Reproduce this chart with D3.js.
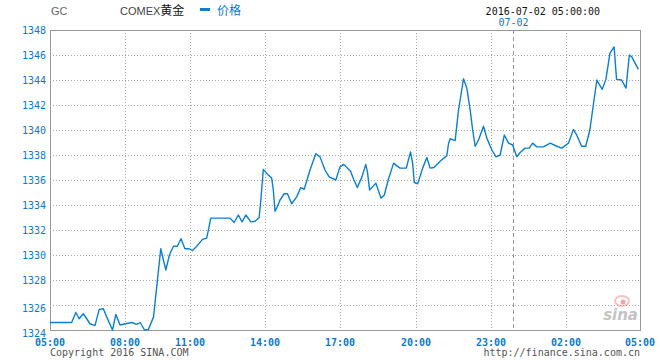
<!DOCTYPE html>
<html>
<head>
<meta charset="utf-8">
<script src="https://cdn.jsdelivr.net/npm/d3@7/dist/d3.min.js"></script>
<style>
	body { margin: 0; background: #fff; }
	svg { display: block; }
	.mono { font-family: "DejaVu Sans Mono", "Liberation Mono", monospace; font-size: 10px; }
</style>
</head>
<body>
<svg id="chart" width="660" height="360"></svg>
<script>
// --- data ---
const times = [
	"05:00", "05:52", "06:02", "06:10", "06:20", "06:36", "06:48", "06:58", "07:08", "07:16",
	"07:30", "07:38", "07:48", "08:00", "08:19", "08:32", "08:42", "08:54", "09:05", "09:19",
	"09:28", "09:39", "09:53", "10:03", "10:14", "10:25", "10:35", "10:46", "10:58", "11:06",
	"11:16", "11:30", "11:40", "11:50", "12:36", "12:46", "12:56", "13:05", "13:14", "13:26",
	"13:36", "13:46", "13:50", "13:56", "14:08", "14:16", "14:20", "14:24", "14:30", "14:36",
	"14:46", "14:54", "15:04", "15:16", "15:26", "15:34", "15:48", "16:02", "16:12", "16:24",
	"16:34", "16:50", "17:00", "17:09", "17:25", "17:33", "17:41", "17:52", "18:01", "18:05",
	"18:10", "18:25", "18:37", "18:45", "18:55", "19:07", "19:14", "19:22", "19:37", "19:47",
	"19:52", "19:56", "20:04", "20:16", "20:26", "20:34", "20:43", "20:58", "21:14", "21:18",
	"21:22", "21:34", "21:42", "21:54", "22:02", "22:10", "22:16", "22:22", "22:30", "22:42",
	"22:50", "23:02", "23:12", "23:22", "23:32", "23:42", "23:52", "00:02", "00:10", "00:22",
	"00:32", "00:40", "00:50", "01:06", "01:22", "01:38", "01:50", "02:06", "02:18", "02:26",
	"02:38", "02:48", "02:58", "03:15", "03:28", "03:37", "03:47", "03:57", "04:03", "04:15",
	"04:26", "04:34", "04:40", "04:48", "04:56"
];
const prices = [
	1324.6, 1324.6, 1325.4, 1324.9, 1325.3, 1324.5, 1324.35, 1325.65, 1325.7, 1325.05,
	1324.0, 1325.25, 1324.4, 1324.5, 1324.6, 1324.45, 1324.6, 1324.0, 1324.05, 1325.05,
	1327.5, 1330.5, 1328.8, 1330.0, 1330.7, 1330.7, 1331.3, 1330.5, 1330.5, 1330.35,
	1330.7, 1331.25, 1331.35, 1332.95, 1332.95, 1332.6, 1333.2, 1332.65, 1333.2, 1332.65,
	1332.7, 1333.0, 1334.4, 1336.85, 1336.4, 1336.15, 1335.2, 1333.5, 1333.9, 1334.4,
	1334.9, 1334.9, 1334.1, 1334.65, 1335.4, 1335.25, 1336.8, 1338.1, 1337.85, 1336.8,
	1336.25, 1336.0, 1337.05, 1337.25, 1336.7, 1336.0, 1335.4, 1336.25, 1337.25, 1336.65,
	1335.2, 1335.75, 1334.55, 1334.8, 1336.1, 1337.35, 1337.15, 1336.95, 1336.95, 1338.25,
	1337.35, 1335.8, 1335.7, 1336.95, 1337.8, 1336.95, 1337.0, 1337.5, 1337.95, 1338.9,
	1339.3, 1339.15, 1341.6, 1344.1, 1343.35, 1341.6, 1340.0, 1338.7, 1339.2, 1340.3,
	1339.35, 1338.4, 1337.85, 1338.0, 1339.6, 1338.95, 1338.8, 1337.85, 1338.2, 1338.55,
	1338.55, 1338.95, 1338.65, 1338.65, 1338.95, 1338.7, 1338.55, 1338.95, 1340.05, 1339.6,
	1338.7, 1338.7, 1340.0, 1344.0, 1343.25, 1344.05, 1346.15, 1346.65, 1344.05, 1344.0,
	1343.35, 1346.0, 1345.85, 1345.35, 1344.85
];
const tickLabels = ["05:00", "08:00", "11:00", "14:00", "17:00", "20:00", "23:00", "02:00", "05:00"];
const yTicks = [1324, 1326, 1328, 1330, 1332, 1334, 1336, 1338, 1340, 1342, 1344, 1346, 1348];
const dayLabel = "07-02";
const dayStart = "00:00";
const stamp = "2016-07-02 05:00:00";

// --- layout ---
const LEFT = 50, TOP = 30, BOTTOM = 330;
const TICK_OFFSETS = [0, 75, 140, 215, 290, 366, 441, 516, 590]; // uneven spacing in the original
const BLUE = "#0b7ad1";
const LINE = "#0a7fd6";
const GRID = "#aaaaaa";
const BORDER = "#999999";

// hours elapsed since the 05:00 session start
function toHours(t, last) {
	const [h, m] = t.split(":").map(Number);
	let v = ((h - 5 + 24) % 24) + m / 60;
	if (last && v === 0) v = 24;
	return v;
}

const tickHours = tickLabels.map((t, i) => toHours(t, i === tickLabels.length - 1));

const x = d3.scaleLinear()
	.domain(tickHours)
	.range(TICK_OFFSETS.map(d => LEFT + d));
const y = d3.scaleLinear()
	.domain([d3.min(yTicks), d3.max(yTicks)])
	.range([BOTTOM, TOP]);

const RIGHT = x(24);

const data = times.map((t, i) => ({ h: toHours(t, false), v: prices[i] }));

const svg = d3.select("#chart");

// grid
const grid = svg.append("g");
grid.selectAll("line.h")
	.data(yTicks.slice(1, -1))
	.join("line")
	.attr("x1", LEFT).attr("x2", RIGHT)
	.attr("y1", d => y(d) + 0.5).attr("y2", d => y(d) + 0.5)
	.attr("stroke", GRID)
	.attr("stroke-dasharray", "1,2");
grid.selectAll("line.v")
	.data(tickHours.slice(1, -1))
	.join("line")
	.attr("x1", d => Math.round(x(d)) + 0.5).attr("x2", d => Math.round(x(d)) + 0.5)
	.attr("y1", TOP).attr("y2", BOTTOM)
	.attr("stroke", GRID)
	.attr("stroke-dasharray", "1,2");

// day separator
const dayX = Math.round(x(toHours(dayStart, false))) - 2.5;
svg.append("line")
	.attr("x1", dayX).attr("x2", dayX)
	.attr("y1", TOP).attr("y2", BOTTOM)
	.attr("stroke", BORDER)
	.attr("stroke-dasharray", "4,3");
svg.append("text")
	.attr("class", "mono")
	.attr("x", dayX)
	.attr("y", 26)
	.attr("text-anchor", "middle")
	.attr("fill", BLUE)
	.text(dayLabel);

// watermark
const wm = svg.append("g").attr("opacity", 0.5);
wm.append("ellipse")
	.attr("cx", 622).attr("cy", 301).attr("rx", 7).attr("ry", 5)
	.attr("fill", "none").attr("stroke", "#f08080").attr("stroke-width", 2);
wm.append("circle")
	.attr("cx", 623).attr("cy", 302).attr("r", 2.5).attr("fill", "#e05050");
wm.append("text")
	.attr("x", 638).attr("y", 320)
	.attr("text-anchor", "end")
	.attr("font-family", "DejaVu Sans, sans-serif")
	.attr("font-size", 15).attr("font-style", "italic").attr("font-weight", "bold")
	.attr("fill", "#888")
	.text("sina");

// frame
svg.append("rect")
	.attr("x", LEFT + 0.5).attr("y", TOP + 0.5)
	.attr("width", RIGHT - LEFT).attr("height", BOTTOM - TOP)
	.attr("fill", "none")
	.attr("stroke", BORDER);

// price line
const line = d3.line()
	.x(d => x(d.h))
	.y(d => y(d.v));
svg.append("path")
	.datum(data)
	.attr("d", line)
	.attr("fill", "none")
	.attr("stroke", LINE)
	.attr("stroke-width", 1.4)
	.attr("stroke-linejoin", "round");

// y labels: the two bottom ones hang below their gridline
svg.append("g")
	.selectAll("text")
	.data(yTicks)
	.join("text")
	.attr("class", "mono")
	.attr("x", 46)
	.attr("y", d => y(d) + (d < 1328 ? 6.5 : 4))
	.attr("text-anchor", "end")
	.attr("fill", BLUE)
	.text(d => d);

// x labels
svg.append("g")
	.selectAll("text")
	.data(tickLabels)
	.join("text")
	.attr("class", "mono")
	.attr("x", (d, i) => x(tickHours[i]))
	.attr("y", 346)
	.attr("text-anchor", "middle")
	.attr("font-weight", "bold")
	.attr("fill", BLUE)
	.text(d => d);

// header
svg.append("text")
	.attr("x", 51).attr("y", 15)
	.attr("font-family", "Liberation Sans Narrow, Liberation Sans, sans-serif")
	.attr("font-size", 11).attr("fill", "#666")
	.text("GC");
const title = svg.append("text")
	.attr("x", 120).attr("y", 15)
	.attr("font-family", "Liberation Sans Narrow, Liberation Sans, sans-serif")
	.attr("font-size", 11).attr("fill", "#444");
title.append("tspan").text("COMEX");
title.append("tspan")
	.attr("font-family", "Noto Sans CJK SC, sans-serif")
	.attr("font-size", 12).attr("fill", "#111")
	.text("黄金");

// legend
svg.append("rect")
	.attr("x", 200).attr("y", 8).attr("width", 10).attr("height", 3)
	.attr("fill", LINE);
svg.append("text")
	.attr("x", 217).attr("y", 15)
	.attr("font-family", "Noto Sans CJK SC, sans-serif")
	.attr("font-size", 12).attr("fill", BLUE)
	.text("价格");

svg.append("text")
	.attr("class", "mono")
	.attr("x", 600).attr("y", 15)
	.attr("text-anchor", "end")
	.attr("fill", "#111")
	.text(stamp);

// footer
svg.append("text")
	.attr("class", "mono")
	.attr("x", 50).attr("y", 356)
	.attr("fill", "#555")
	.text("Copyright 2016 SINA.COM");
svg.append("text")
	.attr("class", "mono")
	.attr("x", RIGHT).attr("y", 356)
	.attr("text-anchor", "end")
	.attr("fill", "#555")
	.text("http://finance.sina.com.cn");
</script>
</body>
</html>
